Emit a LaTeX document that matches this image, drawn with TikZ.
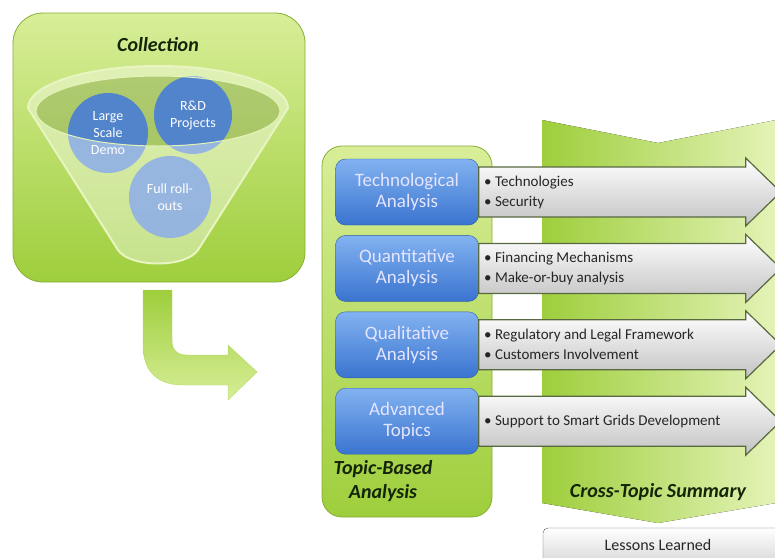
\documentclass[tikz,border=0pt]{standalone}
\usepackage{fontspec}
\setmainfont{Carlito}
\usepackage{xcolor}
\usetikzlibrary{arrows}
\usetikzlibrary{calc, math, positioning}
\definecolor{mygreen}{RGB}{158,206,60}
\definecolor{mylight}{RGB}{216,238,152}
\definecolor{myblue}{RGB}{58,116,208}
\definecolor{mysky}{RGB}{130,178,240}
\definecolor{mydark}{RGB}{20,36,8}
\definecolor{myrim}{RGB}{88,104,64}
\definecolor{myolive}{RGB}{150,176,96}

\tikzset{
  greenbox/.style={top color=mylight, bottom color=mygreen, draw=mygreen!85!black, line width=0.8pt},
  topicbox/.style={rounded corners=10pt, top color=mysky, bottom color=myblue, draw=myblue!80!black,
    minimum width=143pt, minimum height=66pt, align=center, text=blue!10!white,
    font=\fontsize{19}{21}\selectfont},
  bubble/.style={circle, fill=myblue!92!white, fill opacity=0.92, text opacity=1, text=white,
    align=center, inner sep=0pt, font=\fontsize{14}{17}\selectfont},
  grayarrow/.style={top color=white, bottom color=black!24, draw=myrim, line width=1.2pt},
  itemlist/.style={align=left, anchor=west, text=black!85, font=\fontsize{15}{20}\selectfont},
  titletext/.style={align=center, text=mydark, font=\bfseries\itshape\fontsize{20}{24}\selectfont},
}

\begin{document}
\begin{tikzpicture}[x=1pt, y=-1pt]
\tikzmath{
\shaft=25; \head=34; \len=267;
}
\useasboundingbox (0,0) rectangle (775,557);
\clip (0,0) rectangle (775,557);

% collection
\draw[greenbox, rounded corners=30pt] (13,13) rectangle (305,282);
\node[titletext] (collect) at (158,45) {Collection};
\fill[myolive, fill opacity=0.5] (158,111) ellipse [x radius=122, y radius=35];
\node[bubble, minimum size=80pt] (demo) at (108,133) {Large\\Scale\\Demo};
\node[bubble, minimum size=78pt] (rnd) at (193,115) {R\&D\\Projects};
\node[bubble, minimum size=82pt] (rollout) at (170,197) {Full roll-\\outs};
\fill[white, fill opacity=0.4, even odd rule] (28,108) arc[start angle=180, end angle=360, x radius=130, y radius=42]
  -- (198,250) .. controls (186,268) and (130,268) .. (118,250) -- cycle
  (158,111) ellipse [x radius=122, y radius=35];
\draw[mylight!60!white, line width=2pt] (28,108) arc[start angle=180, end angle=360, x radius=130, y radius=42]
  -- (198,250) .. controls (186,268) and (130,268) .. (118,250) -- cycle;
\draw[mylight!70!white, line width=1pt] (158,111) ellipse [x radius=122, y radius=35];

% bent arrow
\draw[top color=mygreen, bottom color=mylight, draw=mygreen!80!white] (143,290) -- (172,290) -- (172,340)
  .. controls (172,350) and (177,355) .. (187,355) -- (228,355) -- (228,345) -- (257,372)
  -- (228,400) -- (228,385) -- (183,385) .. controls (158,385) and (143,372) .. (143,345) -- cycle;

% cross-topic summary
\fill[left color=mygreen, right color=mylight!70!white] (542,120) -- (658,143) -- (776,120)
  -- (776,503) -- (658,523) -- (542,503) -- cycle;
\node[titletext] (summary) at (658,492) {Cross-Topic Summary};

% topic-based analysis
\draw[greenbox, rounded corners=20pt] (322,146) rectangle (492,517);
\node[titletext] (topicbased) at (383,481) {Topic-Based\\Analysis};

\node[topicbox] (tech) at (407,192) {Technological\\Analysis};
\node[topicbox, below=10pt of tech] (quant) {Quantitative\\Analysis};
\node[topicbox, below=10pt of quant] (qual) {Qualitative\\Analysis};
\node[topicbox, below=10pt of qual] (adv) {Advanced\\Topics};

\foreach \b in {tech,quant,qual,adv}{
  \draw[grayarrow] ($(\b.east)+(0,-\shaft)$) -- ++(\len,0) -- ++(0,\shaft-\head) -- ++(35,\head)
    -- ++(-35,\head) -- ++(0,\shaft-\head) -- ++(-\len,0) -- cycle;
}
\node[itemlist, right=2pt of tech.east] (techlist) {\textbullet~Technologies\\\textbullet~Security};
\node[itemlist, right=2pt of quant.east] (quantlist) {\textbullet~Financing Mechanisms\\\textbullet~Make-or-buy analysis};
\node[itemlist, right=2pt of qual.east] (quallist) {\textbullet~Regulatory and Legal Framework\\\textbullet~Customers Involvement};
\node[itemlist, right=2pt of adv.east] (advlist) {\textbullet~Support to Smart Grids Development};

% lessons learned
\draw[top color=white, bottom color=black!22, draw=black!65, rounded corners=5pt] (543,528) rectangle (790,580);
\node[text=black!85, inner sep=1pt, font=\fontsize{16}{18}\selectfont] (lessons) at (658,545) {Lessons Learned};
\end{tikzpicture}
\end{document}
